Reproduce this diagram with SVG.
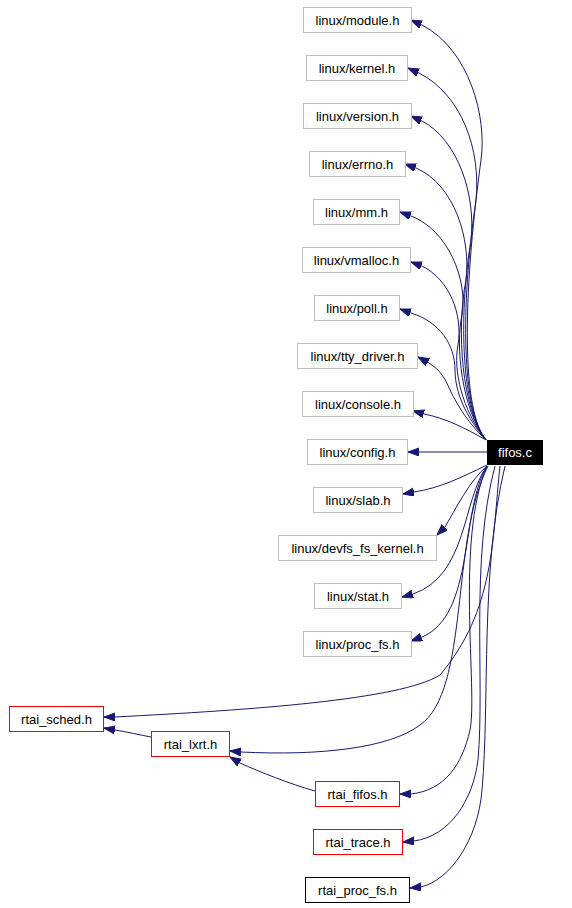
<svg xmlns="http://www.w3.org/2000/svg" width="572" height="908" viewBox="0 0 572 908">
<style>
.n rect{fill:#fff;stroke:#bfbfbf;stroke-width:1}
.n.r rect{stroke:#ff0000}
.n.k rect{stroke:#000}
.n.f rect{fill:#000;stroke:#000}
.n text{font-family:"Liberation Sans",Arial,sans-serif;font-size:13px;fill:#000;text-anchor:middle}
.n.f text{fill:#fff}
.e path{fill:none;stroke:#191970;stroke-width:1;marker-end:url(#ah)}
</style>
<defs>
<marker id="ah" markerUnits="userSpaceOnUse" markerWidth="12" markerHeight="9" refX="11" refY="4" orient="auto">
<path d="M0,0 L11,4 L0,8 z" fill="#191970" stroke="#191970" stroke-width="1"/>
</marker>
</defs>
<rect width="572" height="908" fill="#fff"/>
<g class="e">
<path d="M486,440 C462,412 462,300 481,160 C487,118 470,50 422,25 L411,20"/>
<path d="M486,440 C462,410 460,310 476,200 C481,150 462,95 419,73 L408,68"/>
<path d="M486,440 C462,410 458,320 471,240 C476,195 458,140 422,121 L411,116"/>
<path d="M486,440 C462,410 456,330 466,280 C471,240 455,185 416,168 L405,164"/>
<path d="M486,440 C462,410 455,345 462,315 C468,280 448,230 411,216 L400,212"/>
<path d="M486,440 C462,410 453,370 458,345 C463,315 450,280 422,266 L411,262"/>
<path d="M486,440 C460,410 455,385 455,370 C455,345 440,322 411,313 L400,309"/>
<path d="M486,440 C465,420 455,400 450,390 C445,378 440,370 429,363 L418,357"/>
<path d="M486,440 C465,428 445,418 424,414 L413,411"/>
<path d="M487,452 L408,452"/>
<path d="M487,465 C460,478 440,488 414,492 L403,494"/>
<path d="M487,466 C470,480 455,510 445,527 L437,535"/>
<path d="M487,466 C462,500 468,575 413,594 L402,597"/>
<path d="M487,466 C460,510 475,615 422,637 L411,641"/>
<path d="M500,466 C492,540 495,610 440,675 C400,700 250,710 115,717 L104,717"/>
<path d="M488,466 C450,540 470,690 420,725 C390,748 320,756 241,752 L230,751"/>
<path d="M315,791 C290,784 260,772 240,763 L230,757"/>
<path d="M151,737 C140,735 128,732 115,730 L104,728"/>
<path d="M487,466 C455,540 478,690 470,730 C462,765 445,790 411,794 L400,794"/>
<path d="M495,466 C470,560 485,680 478,760 C473,800 450,836 414,841 L403,842"/>
<path d="M505,466 C480,570 490,700 482,790 C478,840 450,880 421,887 L410,888"/>
</g>
<g id="fifos_c" class="n f"><rect x="487.5" y="440.5" width="55" height="24"/><text x="515" y="457">fifos.c</text></g>
<g id="linux_module_h" class="n"><rect x="303.5" y="7.5" width="108" height="25"/><text x="357.5" y="24.5">linux/module.h</text></g>
<g id="linux_kernel_h" class="n"><rect x="306.5" y="55.5" width="101" height="25"/><text x="357" y="72.5">linux/kernel.h</text></g>
<g id="linux_version_h" class="n"><rect x="303.5" y="103.5" width="108" height="25"/><text x="357.5" y="120.5">linux/version.h</text></g>
<g id="linux_errno_h" class="n"><rect x="309.5" y="151.5" width="96" height="25"/><text x="357.5" y="168.5">linux/errno.h</text></g>
<g id="linux_mm_h" class="n"><rect x="313.5" y="199.5" width="86" height="25"/><text x="356.5" y="216.5">linux/mm.h</text></g>
<g id="linux_vmalloc_h" class="n"><rect x="302.5" y="247.5" width="108" height="25"/><text x="356.5" y="264.5">linux/vmalloc.h</text></g>
<g id="linux_poll_h" class="n"><rect x="314.5" y="295.5" width="85" height="25"/><text x="357" y="312.5">linux/poll.h</text></g>
<g id="linux_tty_driver_h" class="n"><rect x="297.5" y="343.5" width="120" height="25"/><text x="357.5" y="360.5">linux/tty_driver.h</text></g>
<g id="linux_console_h" class="n"><rect x="302.5" y="391.5" width="111" height="25"/><text x="358" y="408.5">linux/console.h</text></g>
<g id="linux_config_h" class="n"><rect x="307.5" y="439.5" width="100" height="25"/><text x="357.5" y="456.5">linux/config.h</text></g>
<g id="linux_slab_h" class="n"><rect x="313.5" y="487.5" width="89" height="25"/><text x="358" y="504.5">linux/slab.h</text></g>
<g id="linux_devfs_fs_kernel_h" class="n"><rect x="278.5" y="535.5" width="158" height="25"/><text x="357.5" y="552.5">linux/devfs_fs_kernel.h</text></g>
<g id="linux_stat_h" class="n"><rect x="314.5" y="583.5" width="87" height="25"/><text x="358" y="600.5">linux/stat.h</text></g>
<g id="linux_proc_fs_h" class="n"><rect x="303.5" y="631.5" width="108" height="25"/><text x="357.5" y="648.5">linux/proc_fs.h</text></g>
<g id="rtai_sched_h" class="n r"><rect x="9.5" y="706.5" width="94" height="25"/><text x="56.5" y="723.5">rtai_sched.h</text></g>
<g id="rtai_lxrt_h" class="n r"><rect x="151.5" y="731.5" width="78" height="25"/><text x="190.5" y="748.5">rtai_lxrt.h</text></g>
<g id="rtai_fifos_h" class="n r"><rect x="315.5" y="781.5" width="84" height="25"/><text x="357.5" y="798.5">rtai_fifos.h</text></g>
<g id="rtai_trace_h" class="n r"><rect x="313.5" y="829.5" width="89" height="25"/><text x="358" y="846.5">rtai_trace.h</text></g>
<g id="rtai_proc_fs_h" class="n k"><rect x="305.5" y="877.5" width="104" height="25"/><text x="357.5" y="894.5">rtai_proc_fs.h</text></g>
</svg>
